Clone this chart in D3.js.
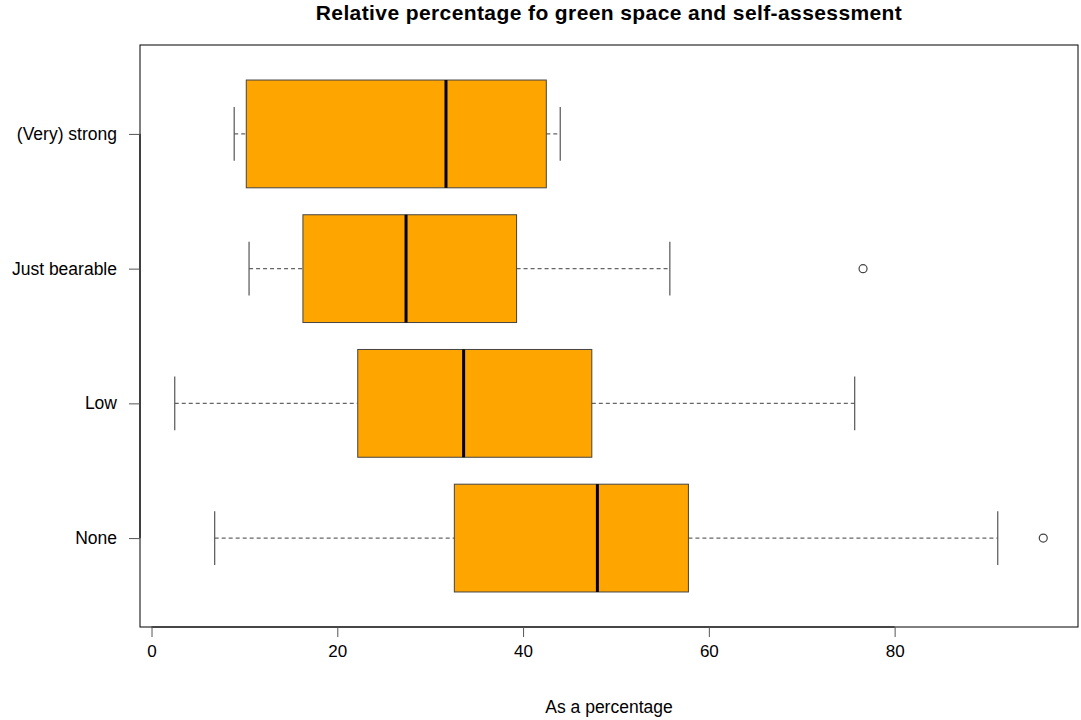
<!DOCTYPE html>
<html><head><meta charset="utf-8">
<script src="https://cdn.jsdelivr.net/npm/d3@7"></script>
<style>body{margin:0;background:#fff;} text{font-family:"Liberation Sans",Arial,sans-serif;}</style>
</head><body>
<svg id="c" width="1081" height="720"></svg>
<script>
const categories = ["None", "Low", "Just bearable", "(Very) strong"];
const whiskerLow = [6.8, 2.5, 10.5, 8.9];
const q1 = [32.6, 22.2, 16.3, 10.2];
const median = [48.0, 33.6, 27.4, 31.7];
const q3 = [57.8, 47.4, 39.3, 42.5];
const whiskerHigh = [91.1, 75.7, 55.8, 44.0];
const outliers = [[96.0], [], [76.6], []];
const xTicks = [0, 20, 40, 60, 80];
const title = "Relative percentage fo green space and self-assessment";
const xLabel = "As a percentage";

const svg = d3.select("#c");
const L = 140, R = 1078, T = 45, B = 627;
const x = d3.scaleLinear().domain([-1.24, 99.74]).range([L, R]);
const y = d3.scaleLinear().domain([0.34, 4.66]).range([B, T]);

svg.append("rect").attr("x", L).attr("y", T).attr("width", R - L).attr("height", B - T)
  .attr("fill", "none").attr("stroke", "#000").attr("stroke-width", 1);

const data = categories.map((c, i) => ({c, i: i + 1, lo: whiskerLow[i], q1: q1[i], med: median[i], q3: q3[i], hi: whiskerHigh[i], out: outliers[i]}));
const halfBox = (y(0) - y(0.4));
const halfCap = (y(0) - y(0.2));

const g = svg.append("g");
data.forEach(d => {
  const cy = y(d.i);
  g.append("line").attr("x1", x(d.lo)).attr("x2", x(d.q1)).attr("y1", cy).attr("y2", cy)
    .attr("stroke", "#666").attr("stroke-dasharray", "4,3").attr("stroke-width", 1.2);
  g.append("line").attr("x1", x(d.q3)).attr("x2", x(d.hi)).attr("y1", cy).attr("y2", cy)
    .attr("stroke", "#666").attr("stroke-dasharray", "4,3").attr("stroke-width", 1.2);
  [d.lo, d.hi].forEach(v => g.append("line").attr("x1", x(v)).attr("x2", x(v))
    .attr("y1", cy - halfCap).attr("y2", cy + halfCap).attr("stroke", "#555").attr("stroke-width", 1.2));
  g.append("rect").attr("x", x(d.q1)).attr("y", cy - halfBox).attr("width", x(d.q3) - x(d.q1))
    .attr("height", 2 * halfBox).attr("fill", "#FFA500").attr("stroke", "#444").attr("stroke-width", 1);
  g.append("line").attr("x1", x(d.med)).attr("x2", x(d.med)).attr("y1", cy - halfBox).attr("y2", cy + halfBox)
    .attr("stroke", "#000").attr("stroke-width", 3);
  d.out.forEach(o => g.append("circle").attr("cx", x(o)).attr("cy", cy).attr("r", 4)
    .attr("fill", "none").attr("stroke", "#444").attr("stroke-width", 1.2));
});

const xa = svg.append("g").attr("transform", `translate(0,${B})`)
  .call(d3.axisBottom(x).tickValues(xTicks).tickSize(10).tickPadding(8).tickFormat(d3.format("d")));
xa.select(".domain").attr("d", `M${x(xTicks[0])},0H${x(xTicks[xTicks.length-1])}`).attr("stroke", "#333").attr("stroke-width", 1.5);
xa.selectAll(".tick line").attr("stroke", "#555");
xa.selectAll("text").attr("font-size", 17).attr("fill", "#000").style("font-family", "Liberation Sans, Arial, sans-serif");

const ya = svg.append("g").attr("transform", `translate(${L},0)`)
  .call(d3.axisLeft(y).tickValues([1, 2, 3, 4]).tickSize(11).tickPadding(12).tickFormat(v => categories[v - 1]));
ya.select(".domain").attr("d", `M0,${y(1)}V${y(4)}`).attr("stroke", "#000");
ya.selectAll(".tick line").attr("stroke", "#555");
ya.selectAll("text").attr("font-size", 17.5).attr("fill", "#000").style("font-family", "Liberation Sans, Arial, sans-serif");

svg.append("text").attr("x", (L + R) / 2).attr("y", 20).attr("text-anchor", "middle")
  .attr("font-size", 21).attr("font-weight", "bold").attr("letter-spacing", 0.4).text(title);
svg.append("text").attr("x", (L + R) / 2).attr("y", 713).attr("text-anchor", "middle")
  .attr("font-size", 17.5).text(xLabel);
</script>
</body></html>
